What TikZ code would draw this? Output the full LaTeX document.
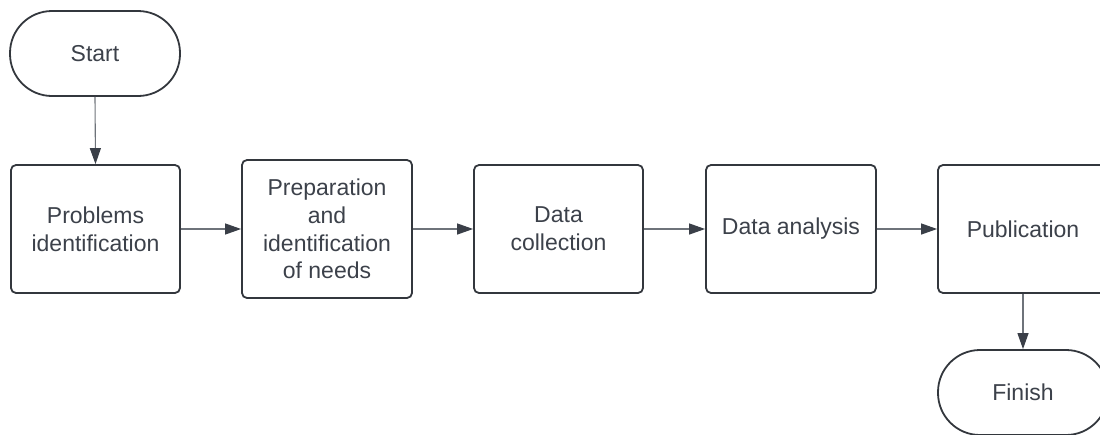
\documentclass[tikz,border=0pt]{standalone}
\usepackage{fontspec}
\setmainfont{Liberation Sans}
\usetikzlibrary{arrows.meta}
\definecolor{boxline}{HTML}{33373D}
\definecolor{txt}{HTML}{3C414A}
\definecolor{conn}{HTML}{6E737A}
\definecolor{tip}{HTML}{3A3F48}
\tikzset{
  procbox/.style={draw=boxline, line width=1.8pt, rounded corners=5pt, inner sep=0pt,
    minimum width=170pt, minimum height=128pt, text=txt, align=center,
    font=\fontsize{23}{27.7}\selectfont},
  termbox/.style={procbox, rounded corners=42pt, minimum height=85pt},
  conn/.style={draw=conn, line width=1.1pt, -{Triangle[length=16pt,width=11pt,fill=tip,color=tip]}}
}
\begin{document}
\begin{tikzpicture}[x=1pt,y=-1pt]
\useasboundingbox (0,0) rectangle (1100,434);
\clip (0,0) rectangle (1100,434);
\node[termbox] (start) at (95,53.5) {Start};
\node[procbox, minimum width=169pt] (p1) at (95.5,229) {Problems\\identification};
\node[procbox, minimum height=138pt] (p2) at (327,229) {Preparation\\and\\identification\\of needs};
\node[procbox, minimum width=169pt] (p3) at (558.5,229) {Data\\collection};
\node[procbox] (p4) at (791,229) {Data analysis};
\node[procbox] (p5) at (1023,229) {Publication};
\node[termbox] (finish) at (1023,392.5) {Finish};
\draw[conn] (start.south) -- (p1.north);
\draw[conn] (p1.east) -- (p2.west);
\draw[conn] (p2.east) -- (p3.west);
\draw[conn] (p3.east) -- (p4.west);
\draw[conn] (p4.east) -- (p5.west);
\draw[conn] (p5.south) -- (finish.north);
\end{tikzpicture}
\end{document}
